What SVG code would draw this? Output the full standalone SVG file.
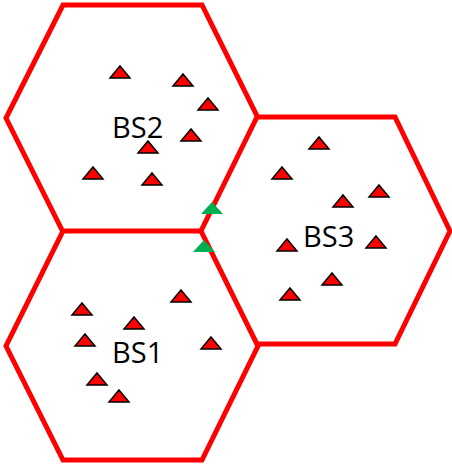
<svg xmlns="http://www.w3.org/2000/svg" xmlns:xlink="http://www.w3.org/1999/xlink" width="452" height="468" viewBox="0 0 452 468">
  <style>
    .cell { fill: #FFFFFF; stroke: #FF0000; stroke-width: 5; stroke-linejoin: miter; }
    .lbl { font-family: "Open Sans", "Liberation Sans", sans-serif; font-size: 29px; fill: #000000; }
    .ue { fill: #FF0000; stroke: #000000; stroke-width: 1.5; stroke-linejoin: miter; }
    .edge { fill: #00B050; stroke: none; }
  </style>
  <defs>
    <path id="tri" d="M0,-6 L10,6 L-10,6 Z"/>
  </defs>
  <rect width="452" height="468" fill="#FFFFFF"/>

  <g id="bs2">
    <polygon class="cell" points="63,5 202,5 258,118 202,232 63,232 6,118"/>
  </g>
  <g id="bs1">
    <polygon class="cell" points="63,231 202,231 258,346 202,460 63,460 6,346"/>
  </g>
  <g id="bs3">
    <polygon class="cell" points="257,117 395,117 450,231 395,344 257,344 201,231"/>
  </g>

  <g id="labels">
    <text class="lbl" x="112" y="138">BS2</text>
    <text class="lbl" x="112" y="363">BS1</text>
    <text class="lbl" x="303" y="247">BS3</text>
  </g>

  <g id="users-bs2" class="ue">
    <use xlink:href="#tri" href="#tri" x="120" y="72"/>
    <use xlink:href="#tri" href="#tri" x="183" y="80"/>
    <use xlink:href="#tri" href="#tri" x="208" y="104"/>
    <use xlink:href="#tri" href="#tri" x="191" y="135"/>
    <use xlink:href="#tri" href="#tri" x="148" y="147"/>
    <use xlink:href="#tri" href="#tri" x="93" y="173"/>
    <use xlink:href="#tri" href="#tri" x="152" y="179"/>
  </g>

  <g id="users-bs3" class="ue">
    <use xlink:href="#tri" href="#tri" x="319" y="143"/>
    <use xlink:href="#tri" href="#tri" x="282" y="173"/>
    <use xlink:href="#tri" href="#tri" x="379" y="191"/>
    <use xlink:href="#tri" href="#tri" x="343" y="201"/>
    <use xlink:href="#tri" href="#tri" x="287" y="245"/>
    <use xlink:href="#tri" href="#tri" x="376" y="242"/>
    <use xlink:href="#tri" href="#tri" x="332" y="279"/>
    <use xlink:href="#tri" href="#tri" x="290" y="294"/>
  </g>

  <g id="users-bs1" class="ue">
    <use xlink:href="#tri" href="#tri" x="181" y="296"/>
    <use xlink:href="#tri" href="#tri" x="82" y="309"/>
    <use xlink:href="#tri" href="#tri" x="134" y="323"/>
    <use xlink:href="#tri" href="#tri" x="85" y="340"/>
    <use xlink:href="#tri" href="#tri" x="211" y="343"/>
    <use xlink:href="#tri" href="#tri" x="97" y="379"/>
    <use xlink:href="#tri" href="#tri" x="119" y="396"/>
  </g>

  <g id="edge-users" class="edge">
    <polygon points="212,202 223,214 201,214"/>
    <polygon points="204,240 215,252 193,252"/>
  </g>
</svg>
